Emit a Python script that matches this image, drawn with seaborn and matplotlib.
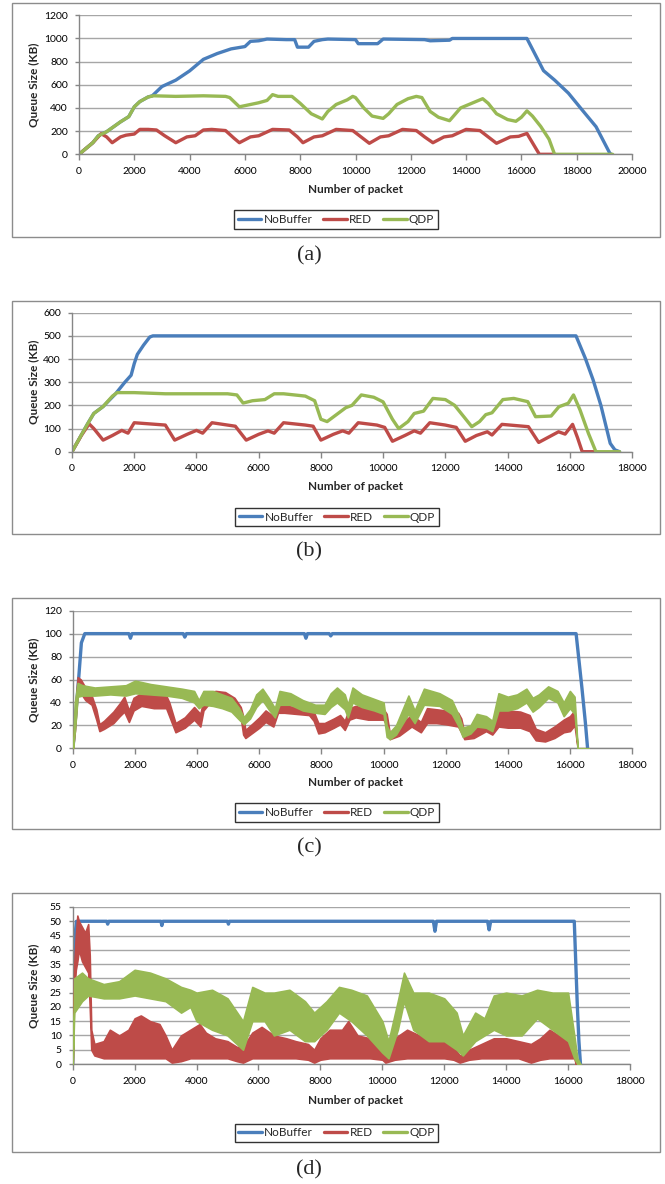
import matplotlib
matplotlib.use("Agg")
import numpy as np
import pandas as pd
import matplotlib.pyplot as plt
import seaborn as sns
from matplotlib.lines import Line2D
from matplotlib.patches import Rectangle

# ---------------- data ----------------
series_names = ["NoBuffer", "RED", "QDP"]

# panel (a)
nb_a_x = [0, 300, 500, 700, 1000, 1500, 1800, 2000, 2200, 2500, 2650, 3000, 3500, 4000, 4500, 5000, 5500, 6000, 6200,
          6500, 6800, 7500, 7800, 7900, 8300, 8500, 8800, 9000, 10000, 10100, 10800, 11000, 12500, 12700, 13400,
          13500, 16200, 16800, 17200, 17700, 18200, 18700, 19200, 19250]
nb_a_y = [0, 60, 100, 160, 195, 280, 325, 410, 455, 495, 505, 585, 640, 720, 820, 870, 910, 930, 975,
          980, 995, 990, 990, 925, 925, 975, 990, 995, 990, 955, 955, 995, 990, 980, 985,
          1000, 1000, 722, 641, 528, 382, 238, 8, 0]
red_a_x = [0, 300, 500, 800, 1000, 1200, 1500, 1700, 2000, 2200, 2500, 2800, 3100, 3500, 3900, 4200, 4500, 4800, 5300,
           5600, 5800, 6200, 6500, 7000, 7600, 7900, 8100, 8500, 8800, 9300, 9900, 10200, 10500, 10900, 11200, 11700,
           12200, 12500, 12800, 13200, 13500, 14000, 14500, 14800, 15100, 15600, 15900, 16200, 16400, 16650, 17200]
red_a_y = [0, 60, 100, 178, 150, 100, 150, 165, 175, 215, 215, 210, 160, 100, 150, 160, 210, 215, 205,
           140, 100, 150, 160, 215, 210, 150, 100, 150, 160, 215, 205, 150, 95, 150, 160, 215,
           205, 150, 100, 150, 160, 215, 205, 150, 95, 150, 155, 180, 100, 0, 0]
qdp_a_x = [0, 300, 500, 700, 1000, 1500, 1800, 2000, 2200, 2500, 2700, 3500, 4500, 5300, 5450, 5800, 6000, 6500, 6800,
           7000, 7200, 7700, 8000, 8400, 8800, 9000, 9300, 9700, 9900, 10000, 10300, 10600, 11000, 11200, 11500,
           11900, 12200, 12400, 12700, 13000, 13400, 13800, 14000, 14300, 14600, 14800, 15100, 15500, 15800, 16000,
           16200, 16400, 16700, 17000, 17200, 19300]
qdp_a_y = [0, 60, 100, 160, 195, 280, 325, 410, 455, 495, 505, 500, 505, 500, 490, 410, 420, 445, 465,
           515, 500, 500, 440, 350, 305, 370, 430, 470, 500, 490, 400, 330, 310, 350, 430,
           480, 500, 490, 370, 320, 290, 400, 420, 450, 480, 440, 350, 300, 285, 320,
           375, 330, 240, 130, 0, 0]

# panel (b)
nb_b_x = [0, 500, 700, 1000, 1400, 1700, 1900, 2000, 2100, 2300, 2500, 2600, 16200, 16500, 16750, 17000, 17300, 17450,
          17600]
nb_b_y = [0, 120, 165, 195, 250, 300, 330, 380, 420, 460, 495, 500, 500, 403, 310, 200, 36, 8, 0]
red_b_x = [0, 300, 550, 700, 1000, 1300, 1600, 1800, 2000, 2500, 3000, 3300, 3700, 4000, 4200, 4500, 5000, 5250, 5600,
           6000, 6300, 6500, 6800, 7500, 7750, 8000, 8400, 8700, 8900, 9200, 9800, 10050, 10300, 10700, 11000, 11200,
           11500, 12000, 12350, 12640, 13000, 13350, 13500, 13820, 14670, 15000, 15640, 15850, 16090, 16250, 16400,
           16850]
red_b_y = [0, 70, 120, 100, 50, 70, 92, 80, 125, 120, 115, 50, 75, 92, 80, 125, 115, 110, 50,
           75, 90, 80, 125, 115, 110, 50, 75, 90, 80, 125, 115, 105, 45, 70, 90, 80,
           125, 115, 105, 45, 70, 86, 72, 118, 108, 40, 86, 76, 118, 60, 0, 0]
qdp_b_x = [0, 500, 700, 1000, 1300, 1450, 2000, 3000, 4000, 5000, 5300, 5500, 5800, 6200, 6500, 6800, 7500, 7800, 8000,
           8200, 8500, 8800, 9000, 9300, 9700, 10000, 10300, 10500, 10800, 11000, 11300, 11600, 12000, 12300, 12600,
           12850, 13100, 13300, 13500, 13850, 14200, 14650, 14900, 15400, 15650, 15950, 16120, 16330, 16600, 16840,
           17600]
qdp_b_y = [0, 120, 165, 195, 240, 255, 255, 250, 250, 250, 245, 210, 220, 225, 250, 250, 240, 220, 140,
           130, 160, 190, 200, 245, 235, 215, 140, 100, 130, 165, 175, 230, 225, 200, 150,
           108, 130, 160, 168, 225, 230, 216, 151, 154, 194, 209, 245, 180, 79, 0,
           0]

# panel (c)
nb_c_x = [0, 180, 270, 380, 1800, 1850, 1900, 3550, 3600, 3650, 7450, 7500, 7550, 8250, 8300, 8350, 16200, 16390,
          16500, 16570]
nb_c_y = [0, 60, 92, 100, 100, 96, 100, 100, 97, 100, 100, 96, 100, 100, 98, 100, 100, 52, 22, 0]
red_c_x = [0, 60, 150, 250, 400, 600, 750, 850, 1000, 1300, 1500, 1650, 1800, 1950, 2200, 2600, 3000, 3100, 3300, 3600,
           3900, 4100, 4200, 4350, 4600, 4900, 5200, 5400, 5480, 5550, 5800, 6000, 6200, 6450, 6600, 6800, 7200, 7600,
           7750, 7900, 8100, 8400, 8600, 8750, 8900, 9100, 9500, 10000, 10100, 10200, 10500, 10900, 11200, 11400,
           11700, 12000, 12400, 12500, 12600, 12900, 13300, 13500, 13700, 14000, 14400, 14700, 14900, 15200, 15500,
           15800, 16000, 16150, 16250, 16600]
red_c_lo = [0, 15, 50, 48, 42, 38, 25, 15, 17, 22, 28, 32, 23, 33, 37, 35, 35, 28, 14, 18,
            25, 19, 33, 38, 40, 39, 35, 27, 12, 9, 14, 18, 23, 19, 31, 31, 30, 29,
            24, 13, 14, 18, 21, 16, 25, 27, 25, 25, 20, 8, 11, 19, 14, 22,
            22, 21, 19, 14, 8, 9, 15, 12, 19, 18, 18, 15, 7, 6, 9,
            14, 15, 20, 0, 0]
red_c_hi = [0, 30, 62, 60, 53, 46, 34, 21, 24, 32, 39, 45, 33, 44, 48, 46, 46, 40, 22, 27,
            36, 30, 42, 49, 50, 49, 44, 36, 28, 16, 22, 27, 33, 28, 38, 37, 36, 35,
            32, 22, 22, 26, 29, 24, 35, 37, 34, 34, 30, 13, 20, 29, 23, 35,
            34, 33, 31, 26, 14, 17, 26, 22, 34, 33, 32, 29, 17, 14, 19,
            25, 28, 33, 0, 0]
qdp_c_x = [0, 60, 150, 300, 700, 1200, 1700, 2000, 2500, 3000, 3500, 3900, 4050, 4200, 4500, 4800, 5100, 5350, 5500,
           5700, 5900, 6100, 6300, 6500, 6650, 7000, 7400, 7800, 8100, 8300, 8500, 8750, 8850, 9000, 9300, 9700,
           10000, 10100, 10200, 10400, 10800, 11000, 11300, 11800, 12200, 12400, 12550, 12800, 13000, 13300, 13500,
           13700, 14000, 14300, 14600, 14800, 15000, 15300, 15600, 15800, 16000, 16150, 16250, 16600]
qdp_c_lo = [0, 15, 45, 46, 46, 47, 46, 48, 47, 46, 44, 40, 35, 38, 37, 35, 32, 25, 21,
            26, 36, 42, 34, 27, 38, 38, 33, 31, 30, 36, 40, 34, 27, 40, 36, 33,
            30, 10, 8, 12, 30, 22, 38, 37, 30, 20, 10, 13, 19, 18, 15,
            33, 33, 35, 40, 32, 36, 44, 40, 28, 35, 30, 0, 0]
qdp_c_hi = [0, 40, 57, 55, 53, 54, 55, 59, 56, 54, 52, 50, 42, 50, 50, 47, 44, 35, 27,
            34, 47, 52, 44, 35, 50, 48, 42, 38, 38, 48, 53, 47, 38, 53, 47, 43,
            40, 20, 14, 20, 46, 33, 52, 48, 42, 30, 18, 20, 30, 28, 24,
            48, 45, 47, 52, 44, 47, 54, 50, 40, 50, 45, 0, 0]

# panel (d)
nb_d_x = [0, 50, 120, 1100, 1130, 1160, 2850, 2880, 2910, 5000, 5030, 5060, 11650, 11700, 11750, 13400, 13450, 13500,
          16200, 16250, 16300, 16350, 16400]
nb_d_y = [0, 42, 50, 50, 49, 50, 50, 48.5, 50, 50, 49, 50, 50, 46.5, 50, 50, 47, 50, 50, 35, 20, 8, 0]
red_d_x = [0, 50, 100, 150, 200, 300, 400, 500, 550, 600, 700, 1000, 1200, 1500, 1800, 2000, 2200, 2500, 2800, 3000,
           3200, 3500, 3800, 4100, 4300, 4600, 5000, 5300, 5500, 5800, 6100, 6500, 6900, 7200, 7600, 7800, 8000, 8300,
           8700, 8900, 9200, 9600, 10000, 10100, 10400, 10800, 11200, 11600, 12000, 12300, 12500, 12800, 13200, 13600,
           14000, 14400, 14800, 15100, 15400, 15700, 16000, 16200, 16250]
red_d_lo = [0, 25, 33, 36, 40, 36, 34, 32, 20, 5, 3, 2, 2, 2, 2, 2, 2, 2, 2, 2,
            0.5, 1, 2, 2, 2, 2, 2, 1, 0.5, 2, 2, 2, 2, 2, 1.5, 0.5, 1.5, 2,
            2, 2, 2, 2, 1.5, 0.5, 1.5, 2, 2, 2, 2, 1.5, 0.5, 1.5, 2, 2,
            2, 2, 0.5, 1.5, 2, 2, 2, 2, 0]
red_d_hi = [0, 35, 45, 52, 50, 48, 46, 49, 38, 12, 7, 8, 12, 10, 12, 16, 17, 15, 14, 10,
            5, 10, 12, 14, 11, 9, 8, 6, 6, 11, 13, 10, 9, 8, 7, 5, 9, 12,
            12, 15, 10, 9, 7, 3, 9, 12, 10, 8, 8, 6, 3, 5, 7, 9,
            9, 8, 7, 9, 12, 10, 9, 7, 0]
qdp_d_x = [0, 50, 300, 500, 1000, 1500, 2000, 2500, 3000, 3500, 3800, 4000, 4500, 5000, 5500, 5800, 6200, 6500, 7000,
           7500, 7800, 8200, 8600, 9000, 9500, 10000, 10200, 10500, 10700, 11000, 11500, 12000, 12400, 12600, 13000,
           13300, 13600, 14000, 14500, 15000, 15500, 16000, 16200, 16300, 16400]
qdp_d_lo = [0, 18, 22, 24, 23, 23, 24, 23, 22, 18, 20, 15, 12, 10, 5, 15, 15, 10, 12,
            8, 8, 12, 18, 15, 10, 4, 2, 12, 22, 12, 8, 8, 5, 3, 8,
            10, 12, 10, 10, 16, 12, 8, 2, 0, 0]
qdp_d_hi = [0, 30, 32, 30, 28, 29, 33, 32, 30, 27, 26, 25, 26, 23, 15, 27, 25, 25, 26,
            22, 18, 22, 27, 26, 24, 15, 8, 22, 32, 25, 25, 23, 18, 10, 18,
            16, 24, 25, 24, 26, 25, 25, 10, 2, 0]

panel_letters = ["(a)", "(b)", "(c)", "(d)"]
y_ticks = [list(range(0, 1201, 200)), list(range(0, 601, 100)), list(range(0, 121, 20)), list(range(0, 56, 5))]
x_ticks = [list(range(0, 20001, 2000)), list(range(0, 18001, 2000)), list(range(0, 18001, 2000)),
           list(range(0, 18001, 2000))]

# ---------------- style ----------------
sns.set_style("white")
plt.rcParams['font.family'] = ['Lato', 'DejaVu Sans']

W, H = 665, 1184
fig = plt.figure(figsize=(W / 100, H / 100), dpi=100)

BLUE = '#4A7EBB'
REDC = '#BE4B48'
GREEN = '#98B954'
palette = {"NoBuffer": BLUE, "RED": REDC, "QDP": GREEN}
GRID = '#A6A6A6'
AXC = '#868686'

layouts = [
    dict(ax=(79, 632, 15.3, 154.3), box=(12, 660, 3.5, 237), leg=(336, 219.5), let=256, xl=189),
    dict(ax=(72, 632, 312.7, 451.7), box=(12, 660, 300.5, 534), leg=(337, 517), let=552, xl=486),
    dict(ax=(73, 632, 610.7, 748.3), box=(12, 660, 598, 829), leg=(337, 812.5), let=848, xl=782),
    dict(ax=(72.7, 630, 907, 1064), box=(12, 660, 893, 1152), leg=(336.5, 1133), let=1170, xl=1100.7),
]

line_data = [
    [("NoBuffer", nb_a_x, nb_a_y), ("RED", red_a_x, red_a_y), ("QDP", qdp_a_x, qdp_a_y)],
    [("NoBuffer", nb_b_x, nb_b_y), ("RED", red_b_x, red_b_y), ("QDP", qdp_b_x, qdp_b_y)],
]
band_data = [
    [("RED", red_c_x, red_c_lo, red_c_hi), ("QDP", qdp_c_x, qdp_c_lo, qdp_c_hi)],
    [("RED", red_d_x, red_d_lo, red_d_hi), ("QDP", qdp_d_x, qdp_d_lo, qdp_d_hi)],
]
nb_noisy = [(nb_c_x, nb_c_y), (nb_d_x, nb_d_y)]

for i, lay in enumerate(layouts):
    x0, x1, yt, yb = lay['ax']
    ax = fig.add_axes([x0 / W, 1 - yb / H, (x1 - x0) / W, (yb - yt) / H])
    ax.set_axisbelow(True)
    bx0, bx1, byt, byb = lay['box']
    fig.add_artist(Rectangle((bx0 / W, 1 - byb / H), (bx1 - bx0) / W, (byb - byt) / H,
                             transform=fig.transFigure, fill=False, edgecolor='#8C8C8C', lw=1.0))
    if i < 2:
        frames = []
        for name, xs, ys in line_data[i]:
            frames.append(pd.DataFrame({"x": xs, "y": ys, "series": name}))
        df = pd.concat(frames, ignore_index=True)
        sns.lineplot(data=df, x="x", y="y", hue="series", hue_order=series_names, palette=palette,
                     estimator=None, sort=False, linewidth=2.4, legend=False, ax=ax)
    else:
        xs, ys = nb_noisy[i - 2]
        sns.lineplot(x=xs, y=ys, color=BLUE, linewidth=2.4, estimator=None, sort=False, ax=ax)
        for name, xs, lo, hi in band_data[i - 2]:
            ax.fill_between(xs, lo, hi, color=palette[name], edgecolor=palette[name], linewidth=1.2, zorder=3)
    yt_ = y_ticks[i]
    xt_ = x_ticks[i]
    ax.set_ylim(yt_[0], yt_[-1])
    ax.set_xlim(xt_[0], xt_[-1])
    ax.set_yticks(yt_)
    ax.set_xticks(xt_)
    ax.set_yticklabels([str(v) for v in yt_])
    ax.set_xticklabels([str(v) for v in xt_])
    ax.grid(axis='y', color=GRID, linewidth=1.0)
    ax.grid(axis='x', visible=False)
    for s in ['top', 'right']:
        ax.spines[s].set_visible(False)
    for s in ['left', 'bottom']:
        ax.spines[s].set_color(AXC)
        ax.spines[s].set_linewidth(1.0)
    ax.tick_params(axis='x', direction='out', length=4, width=1, color=AXC, pad=5, labelsize=7.5,
                   labelcolor='black', bottom=True)
    ax.tick_params(axis='y', direction='out', length=3, width=1, color=AXC, pad=5, labelsize=7.5,
                   labelcolor='black', left=True)
    ax.set_xlabel("Number of packet", fontsize=8.5, fontweight='bold')
    ax.set_ylabel("Queue Size (KB)", fontsize=8.5, fontweight='bold')
    hpx = yb - yt
    wpx = x1 - x0
    ax.xaxis.set_label_coords((355 - x0) / wpx, -(lay['xl'] - yb) / hpx)
    ax.xaxis.label.set_va('center')
    ax.yaxis.set_label_coords(-(x0 - 34) / wpx, 0.5)
    ax.yaxis.label.set_va('center')

    handles = [Line2D([0], [0], color=palette[n], lw=2.4) for n in series_names]
    lx, ly = lay['leg']
    leg = fig.legend(handles, series_names, loc='center', bbox_to_anchor=(lx / W, 1 - ly / H), ncol=3,
                     frameon=True, fancybox=False, edgecolor='black', fontsize=8.5, handlelength=2.0,
                     handletextpad=0.2, columnspacing=0.9, borderpad=0.3)
    leg.get_frame().set_linewidth(1.0)
    fig.text(309 / W, 1 - lay['let'] / H, panel_letters[i], family=['Liberation Serif', 'DejaVu Serif'],
             fontsize=16, ha='center', va='center')

fig.savefig("out.png", dpi=100, facecolor='white')
